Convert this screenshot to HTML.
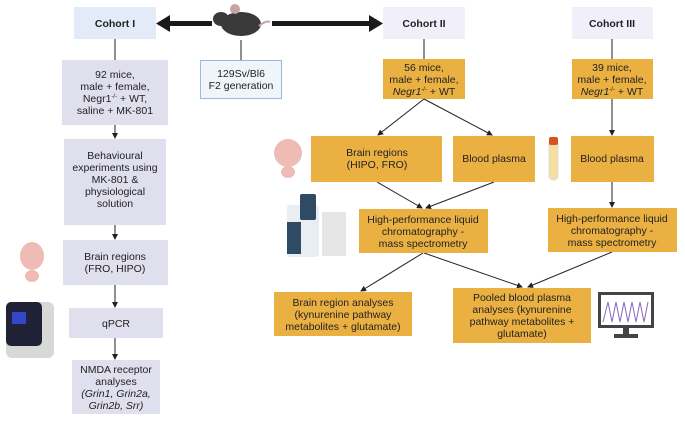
<!DOCTYPE html>
<html><head><meta charset="utf-8"><style>
html,body{margin:0;padding:0;background:#fff}
svg text{font-family:"Liberation Sans",sans-serif;font-size:10.5px;fill:#222;text-anchor:middle}
.b{font-weight:bold}
</style></head><body>
<svg width="685" height="421" viewBox="0 0 685 421" xmlns="http://www.w3.org/2000/svg">
<defs><marker id="a" markerWidth="6" markerHeight="6" refX="5" refY="3" orient="auto" markerUnits="userSpaceOnUse"><path d="M0,0 L6,3 L0,6z" fill="#222"/></marker></defs>
<!-- top boxes -->
<rect x="74" y="7" width="82" height="32" fill="#e3ebf8"/>
<text x="115" y="27" class="b">Cohort I</text>
<rect x="383" y="7" width="82" height="32" fill="#f1f0fa"/>
<text x="424" y="27" class="b">Cohort II</text>
<rect x="572" y="7" width="81" height="32" fill="#f1f0fa"/>
<text x="612" y="27" class="b">Cohort III</text>
<!-- big arrows -->
<rect x="168" y="21" width="44" height="5" fill="#1a1a1a"/>
<path d="M156,23.5 L170,15 L170,32z" fill="#1a1a1a"/>
<rect x="272" y="21" width="100" height="5" fill="#1a1a1a"/>
<path d="M383,23.5 L369,15 L369,32z" fill="#1a1a1a"/>
<!-- mouse -->
<ellipse cx="241" cy="24" rx="20" ry="12" fill="#3a3a3a"/>
<ellipse cx="221" cy="19" rx="8" ry="7" fill="#3a3a3a"/>
<circle cx="235" cy="9" r="5" fill="#c9a3a3"/>
<path d="M259,26 Q266,20 270,22" stroke="#c9a3a3" stroke-width="2" fill="none"/>
<line x1="241" y1="40" x2="241" y2="60" stroke="#555" stroke-width="1.3"/>
<rect x="200.5" y="60.5" width="81" height="38" fill="#f0f5fc" stroke="#9db8e0"/>
<text x="241" y="77">129Sv/Bl6</text><text x="241" y="89">F2 generation</text>
<!-- Cohort I column -->
<line x1="115" y1="39" x2="115" y2="60" stroke="#555" stroke-width="1.3"/>
<rect x="62" y="60" width="106" height="65" fill="#e0dfee"/>
<text x="115" y="78">92 mice,</text><text x="115" y="90">male + female,</text><text x="115" y="102">Negr1<tspan font-size="6" dy="-4">-/-</tspan><tspan dy="4"> + WT,</tspan></text><text x="115" y="114">saline + MK-801</text>
<line x1="115" y1="125" x2="115" y2="138" stroke="#222" marker-end="url(#a)"/>
<rect x="64" y="139" width="102" height="86" fill="#e0dfee"/>
<text x="115" y="159">Behavioural</text><text x="115" y="171">experiments using</text><text x="115" y="183">MK-801 &amp;</text><text x="115" y="195">physiological</text><text x="115" y="207">solution</text>
<line x1="115" y1="225" x2="115" y2="239" stroke="#222" marker-end="url(#a)"/>
<rect x="63" y="240" width="105" height="45" fill="#e0dfee"/>
<text x="115" y="260">Brain regions</text><text x="115" y="272">(FRO, HIPO)</text>
<line x1="115" y1="285" x2="115" y2="307" stroke="#222" marker-end="url(#a)"/>
<rect x="69" y="308" width="94" height="30" fill="#e0dfee"/>
<text x="116" y="327">qPCR</text>
<line x1="115" y1="338" x2="115" y2="359" stroke="#222" marker-end="url(#a)"/>
<rect x="72" y="360" width="88" height="54" fill="#e0dfee"/>
<text x="116" y="373">NMDA receptor</text><text x="116" y="385">analyses</text><text x="116" y="397" font-style="italic">(Grin1, Grin2a,</text><text x="116" y="409" font-style="italic">Grin2b, Srr)</text>
<!-- brain icons -->
<g fill="#eebbb5"><ellipse cx="32" cy="256" rx="12" ry="14"/><ellipse cx="32" cy="276" rx="7" ry="6"/></g>
<g fill="#eebbb5"><ellipse cx="288" cy="153" rx="14" ry="14"/><ellipse cx="288" cy="172" rx="7" ry="6"/></g>
<!-- qPCR machine -->
<rect x="6" y="302" width="48" height="56" rx="6" fill="#d8d8d8"/>
<rect x="6" y="302" width="36" height="44" rx="5" fill="#1f2236"/>
<rect x="12" y="312" width="14" height="12" fill="#3447c8"/>
<!-- Cohort II/III -->
<line x1="424" y1="39" x2="424" y2="59" stroke="#555" stroke-width="1.3"/>
<line x1="612" y1="39" x2="612" y2="59" stroke="#555" stroke-width="1.3"/>
<rect x="383" y="59" width="82" height="40" fill="#ebb042"/>
<text x="424" y="71">56 mice,</text><text x="424" y="83">male + female,</text><text x="424" y="95"><tspan font-style="italic">Negr1</tspan><tspan font-size="6" dy="-4">-/-</tspan><tspan dy="4"> + WT</tspan></text>
<rect x="572" y="59" width="81" height="40" fill="#ebb042"/>
<text x="612" y="71">39 mice,</text><text x="612" y="83">male + female,</text><text x="612" y="95"><tspan font-style="italic">Negr1</tspan><tspan font-size="6" dy="-4">-/-</tspan><tspan dy="4"> + WT</tspan></text>
<g stroke="#222" marker-end="url(#a)" fill="none">
<line x1="424" y1="99" x2="378" y2="135"/>
<line x1="424" y1="99" x2="492" y2="135"/>
<line x1="612" y1="99" x2="612" y2="135"/>
<line x1="377" y1="182" x2="422" y2="208"/>
<line x1="494" y1="182" x2="426" y2="208"/>
<line x1="612" y1="182" x2="612" y2="207"/>
<line x1="423" y1="253" x2="361" y2="291"/>
<line x1="424" y1="253" x2="522" y2="287"/>
<line x1="612" y1="252" x2="528" y2="287"/>
</g>
<rect x="311" y="136" width="131" height="46" fill="#ebb042"/>
<text x="377" y="156">Brain regions</text><text x="377" y="168">(HIPO, FRO)</text>
<rect x="453" y="136" width="82" height="46" fill="#ebb042"/>
<text x="494" y="162">Blood plasma</text>
<rect x="571" y="136" width="83" height="46" fill="#ebb042"/>
<text x="612" y="162">Blood plasma</text>
<rect x="549" y="140" width="9" height="40" rx="4" fill="#f3dfa0" stroke="#ddd"/>
<rect x="549" y="137" width="9" height="8" rx="2" fill="#d9531e"/>
<rect x="359" y="209" width="129" height="44" fill="#ebb042"/>
<text x="423" y="223">High-performance liquid</text><text x="423" y="235">chromatography -</text><text x="423" y="247">mass spectrometry</text>
<rect x="548" y="208" width="129" height="44" fill="#ebb042"/>
<text x="612" y="222">High-performance liquid</text><text x="612" y="234">chromatography -</text><text x="612" y="246">mass spectrometry</text>
<rect x="274" y="292" width="138" height="44" fill="#ebb042"/>
<text x="343" y="306">Brain region analyses</text><text x="343" y="318">(kynurenine pathway</text><text x="343" y="330">metabolites + glutamate)</text>
<rect x="453" y="288" width="138" height="55" fill="#ebb042"/>
<text x="522" y="301">Pooled blood plasma</text><text x="522" y="313">analyses (kynurenine</text><text x="522" y="325">pathway metabolites +</text><text x="522" y="337">glutamate)</text>
<!-- instrument -->
<rect x="287" y="205" width="32" height="52" rx="3" fill="#e8eef2"/>
<rect x="300" y="194" width="16" height="26" rx="2" fill="#2f4a63"/>
<rect x="287" y="222" width="14" height="32" fill="#2f4a63"/>
<rect x="322" y="212" width="24" height="44" fill="#e6e6e6"/>
<!-- monitor -->
<rect x="598" y="292" width="56" height="36" fill="#444"/>
<rect x="601" y="295" width="50" height="30" fill="#fff"/>
<path d="M603,322 L608,302 L612,322 L616,302 L620,322 L624,302 L628,322 L632,302 L636,322 L640,302 L644,322 L648,302" stroke="#8a6bbf" fill="none" stroke-width="1"/>
<rect x="623" y="328" width="6" height="6" fill="#444"/><rect x="614" y="334" width="24" height="4" fill="#444"/>
</svg>
</body></html>
